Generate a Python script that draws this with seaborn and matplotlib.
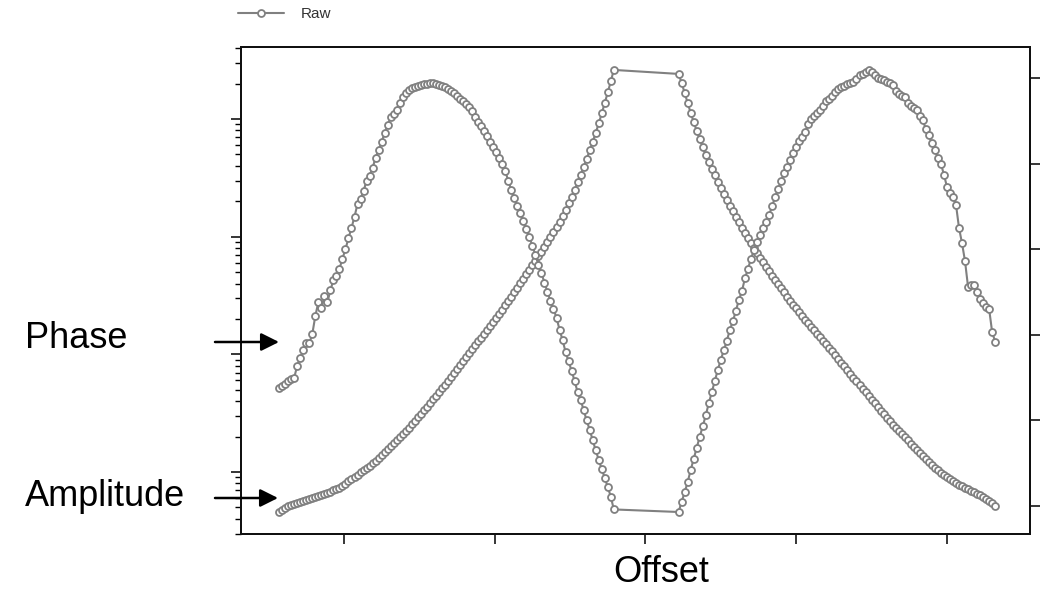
import numpy as np
import pandas as pd
import matplotlib
matplotlib.use("Agg")
import matplotlib.pyplot as plt
import seaborn as sns

# ---------------- data ----------------
offset_left = [
    -2.43, -2.41, -2.39, -2.37, -2.35, -2.33, -2.31, -2.29, -2.27, -2.25,
    -2.23, -2.21, -2.19, -2.17, -2.15, -2.13, -2.11, -2.09, -2.07, -2.05,
    -2.03, -2.01, -1.99, -1.97, -1.95, -1.93, -1.91, -1.89, -1.87, -1.85,
    -1.83, -1.81, -1.79, -1.77, -1.75, -1.73, -1.71, -1.69, -1.67, -1.65,
    -1.63, -1.61, -1.59, -1.57, -1.55, -1.53, -1.51, -1.49, -1.47, -1.45,
    -1.43, -1.41, -1.39, -1.37, -1.35, -1.33, -1.31, -1.29, -1.27, -1.25,
    -1.23, -1.21, -1.19, -1.17, -1.15, -1.13, -1.11, -1.09, -1.07, -1.05,
    -1.03, -1.01, -0.99, -0.97, -0.95, -0.93, -0.91, -0.89, -0.87, -0.85,
    -0.83, -0.81, -0.79, -0.77, -0.75, -0.73, -0.71, -0.69, -0.67, -0.65,
    -0.63, -0.61, -0.59, -0.57, -0.55, -0.53, -0.51, -0.49, -0.47, -0.45,
    -0.43, -0.41, -0.39, -0.37, -0.35, -0.33, -0.31, -0.29, -0.27, -0.25,
    -0.23, -0.21,
]
offset_right = [
    0.22, 0.24, 0.26, 0.28, 0.30, 0.32, 0.34, 0.36, 0.38, 0.40,
    0.42, 0.44, 0.46, 0.48, 0.50, 0.52, 0.54, 0.56, 0.58, 0.60,
    0.62, 0.64, 0.66, 0.68, 0.70, 0.72, 0.74, 0.76, 0.78, 0.80,
    0.82, 0.84, 0.86, 0.88, 0.90, 0.92, 0.94, 0.96, 0.98, 1.00,
    1.02, 1.04, 1.06, 1.08, 1.10, 1.12, 1.14, 1.16, 1.18, 1.20,
    1.22, 1.24, 1.26, 1.28, 1.30, 1.32, 1.34, 1.36, 1.38, 1.40,
    1.42, 1.44, 1.46, 1.48, 1.50, 1.52, 1.54, 1.56, 1.58, 1.60,
    1.62, 1.64, 1.66, 1.68, 1.70, 1.72, 1.74, 1.76, 1.78, 1.80,
    1.82, 1.84, 1.86, 1.88, 1.90, 1.92, 1.94, 1.96, 1.98, 2.00,
    2.02, 2.04, 2.06, 2.08, 2.10, 2.12, 2.14, 2.16, 2.18, 2.20,
    2.22, 2.24, 2.26, 2.28, 2.30, 2.32,
]

# amplitude in dB (log axis on the left)
amplitude_db_left = [
    -6.80, -6.38, -6.04, -5.78, -5.61, -5.44, -5.27, -5.10, -4.93, -4.76,
    -4.59, -4.42, -4.25, -4.08, -3.91, -3.74, -3.57, -3.32, -3.06, -2.89,
    -2.64, -2.30, -1.96, -1.53, -1.19, -0.85, -0.43, 0.00, 0.34, 0.68,
    1.11, 1.53, 1.96, 2.38, 2.89, 3.40, 3.91, 4.42, 4.93, 5.44,
    5.95, 6.46, 6.97, 7.48, 8.08, 8.67, 9.27, 9.86, 10.46, 11.05,
    11.73, 12.33, 12.92, 13.60, 14.20, 14.79, 15.47, 16.15, 16.83, 17.51,
    18.19, 18.87, 19.55, 20.23, 20.91, 21.59, 22.19, 22.78, 23.46, 24.14,
    24.82, 25.50, 26.18, 26.86, 27.54, 28.31, 29.07, 29.75, 30.52, 31.28,
    32.05, 32.81, 33.58, 34.34, 35.11, 35.87, 36.64, 37.40, 38.25, 39.10,
    39.95, 40.80, 41.65, 42.50, 43.52, 44.54, 45.65, 46.75, 47.94, 49.22,
    50.49, 51.85, 53.21, 54.66, 56.10, 57.63, 59.25, 60.95, 62.73, 64.52,
    66.39, 68.34,
]
amplitude_db_right = [
    67.66, 66.13, 64.43, 62.73, 61.03, 59.50, 57.97, 56.61, 55.25, 53.89,
    52.70, 51.51, 50.41, 49.30, 48.28, 47.26, 46.24, 45.22, 44.29, 43.35,
    42.42, 41.48, 40.63, 39.78, 38.93, 38.08, 37.23, 36.38, 35.62, 34.85,
    34.09, 33.32, 32.64, 31.96, 31.28, 30.52, 29.75, 29.07, 28.39, 27.80,
    27.20, 26.52, 25.84, 25.25, 24.65, 24.06, 23.46, 22.87, 22.27, 21.68,
    21.08, 20.49, 19.89, 19.21, 18.53, 17.94, 17.26, 16.66, 15.98, 15.39,
    14.79, 14.11, 13.52, 12.92, 12.24, 11.65, 11.05, 10.37, 9.78, 9.18,
    8.59, 7.99, 7.48, 6.97, 6.38, 5.87, 5.36, 4.85, 4.34, 3.83,
    3.32, 2.81, 2.30, 1.79, 1.28, 0.77, 0.34, -0.09, -0.51, -0.85,
    -1.19, -1.53, -1.87, -2.13, -2.38, -2.64, -2.89, -3.15, -3.40, -3.66,
    -3.91, -4.17, -4.51, -4.85, -5.27, -5.78,
]

# phase (linear axis on the right)
phase_left = [
    1.38, 1.40, 1.43, 1.46, 1.48, 1.50, 1.64, 1.73, 1.82, 1.90,
    1.90, 2.01, 2.22, 2.38, 2.31, 2.45, 2.38, 2.52, 2.64, 2.69,
    2.77, 2.89, 3.00, 3.13, 3.25, 3.38, 3.53, 3.59, 3.68, 3.80,
    3.86, 3.95, 4.07, 4.16, 4.25, 4.36, 4.45, 4.54, 4.58, 4.63,
    4.71, 4.78, 4.82, 4.86, 4.88, 4.89, 4.91, 4.92, 4.93, 4.93,
    4.94, 4.94, 4.93, 4.92, 4.91, 4.89, 4.87, 4.85, 4.82, 4.79,
    4.76, 4.73, 4.70, 4.66, 4.61, 4.54, 4.49, 4.44, 4.38, 4.32,
    4.25, 4.19, 4.14, 4.07, 4.00, 3.91, 3.80, 3.69, 3.60, 3.50,
    3.42, 3.33, 3.24, 3.14, 3.04, 2.93, 2.82, 2.72, 2.61, 2.50,
    2.39, 2.30, 2.20, 2.06, 1.94, 1.80, 1.69, 1.58, 1.46, 1.33,
    1.24, 1.12, 1.00, 0.89, 0.77, 0.65, 0.54, 0.43, 0.33, 0.22,
    0.11, -0.04,
]
phase_right = [
    -0.07, 0.05, 0.16, 0.28, 0.42, 0.55, 0.68, 0.81, 0.93, 1.06,
    1.20, 1.33, 1.46, 1.59, 1.71, 1.82, 1.93, 2.06, 2.16, 2.28,
    2.41, 2.51, 2.66, 2.77, 2.89, 2.99, 3.08, 3.17, 3.25, 3.32,
    3.40, 3.50, 3.61, 3.70, 3.80, 3.89, 3.96, 4.04, 4.12, 4.19,
    4.26, 4.31, 4.37, 4.46, 4.52, 4.56, 4.59, 4.63, 4.67, 4.73,
    4.75, 4.79, 4.84, 4.87, 4.89, 4.91, 4.93, 4.94, 4.95, 4.99,
    5.03, 5.05, 5.07, 5.09, 5.07, 5.03, 5.00, 4.99, 4.98, 4.95,
    4.94, 4.92, 4.85, 4.81, 4.79, 4.78, 4.71, 4.67, 4.65, 4.63,
    4.56, 4.51, 4.40, 4.33, 4.24, 4.16, 4.07, 4.00, 3.87, 3.73,
    3.66, 3.61, 3.52, 3.25, 3.07, 2.86, 2.56, 2.58, 2.58, 2.50,
    2.42, 2.37, 2.32, 2.30, 2.03, 1.92,
]

offset_ticks = [-2, -1, 0, 1, 2]
phase_ticks = [0, 1, 2, 3, 4, 5]
amplitude_decades = [1, 10, 100, 1000]
legend_label = "Raw"
x_label = "Offset"
curve_labels = ["Phase", "Amplitude"]

# ---------------- build table ----------------
df = pd.DataFrame({
    "offset": offset_left + offset_right,
    "amplitude": 10 ** (np.array(amplitude_db_left + amplitude_db_right) / 20.0),
    "phase": phase_left + phase_right,
})

# ---------------- style ----------------
sns.set_style("ticks")
plt.rcParams["font.family"] = ["Liberation Sans", "DejaVu Sans"]

GRAY = "#808080"
line_kw = dict(color=GRAY, linewidth=1.5, marker="o", markersize=5.0,
               markerfacecolor="white", markeredgecolor=GRAY,
               markeredgewidth=1.3)

fig = plt.figure(figsize=(10.56, 5.91), dpi=100)
ax = fig.add_axes([241 / 1056, 57 / 591, 789 / 1056, 487 / 591])
ax2 = ax.twinx()

sns.lineplot(data=df, x="offset", y="amplitude", ax=ax, estimator=None,
             sort=False, label=legend_label, legend=False, **line_kw)
sns.lineplot(data=df, x="offset", y="phase", ax=ax2, estimator=None,
             sort=False, legend=False, **line_kw)

ax.set_yscale("log")
ax.set_ylim(0.2975, 4090)
ax.set_xlim(-2.683, 2.551)
ax2.set_ylim(-0.327, 5.362)

ax.set_xticks(offset_ticks)
ax.set_yticks(amplitude_decades)
ax2.set_yticks(phase_ticks)

ax.set_xlabel("")
ax.set_ylabel("")
ax2.set_ylabel("")

ax.tick_params(axis="both", which="both", labelleft=False, labelbottom=False,
               direction="out", color="black")
ax.tick_params(axis="y", which="major", length=7, width=1.1)
ax.tick_params(axis="y", which="minor", length=4, width=1.0)
ax.tick_params(axis="x", which="major", length=7, width=1.1)
ax.tick_params(axis="x", which="minor", length=0)
ax2.tick_params(axis="y", which="both", labelright=False, length=7,
                width=1.1, direction="out", color="black")

for a in (ax, ax2):
    for sp in a.spines.values():
        sp.set_visible(True)
        sp.set_linewidth(1.4)
        sp.set_color("#111111")

# legend above the plot
handle = ax.lines[0]
fig.legend([handle], [legend_label], loc="center left",
           bbox_to_anchor=(232 / 1056, 1 - 14 / 591), frameon=False,
           fontsize=11, handlelength=3.0, numpoints=1, labelcolor="#333333",
           handletextpad=1.1, borderaxespad=0)

# annotation labels with arrows
fig.text(25 / 1056, 1 - 338 / 591, curve_labels[0], fontsize=26,
         ha="left", va="center", color="black")
fig.text(25 / 1056, 1 - 497 / 591, curve_labels[1], fontsize=26,
         ha="left", va="center", color="black")
fig.text(661 / 1056, 1 - 573 / 591, x_label, fontsize=26,
         ha="center", va="center", color="black")

arrow_kw = dict(arrowstyle="-|>,head_length=0.6,head_width=0.3", color="black",
                lw=1.8, mutation_scale=18, shrinkA=0, shrinkB=0)
fig.add_artist(matplotlib.patches.FancyArrowPatch(
    (215 / 1056, 1 - 342 / 591), (279 / 1056, 1 - 342 / 591),
    transform=fig.transFigure, **arrow_kw))
fig.add_artist(matplotlib.patches.FancyArrowPatch(
    (215 / 1056, 1 - 498 / 591), (278 / 1056, 1 - 498 / 591),
    transform=fig.transFigure, **arrow_kw))

fig.savefig("out.png", dpi=100)
